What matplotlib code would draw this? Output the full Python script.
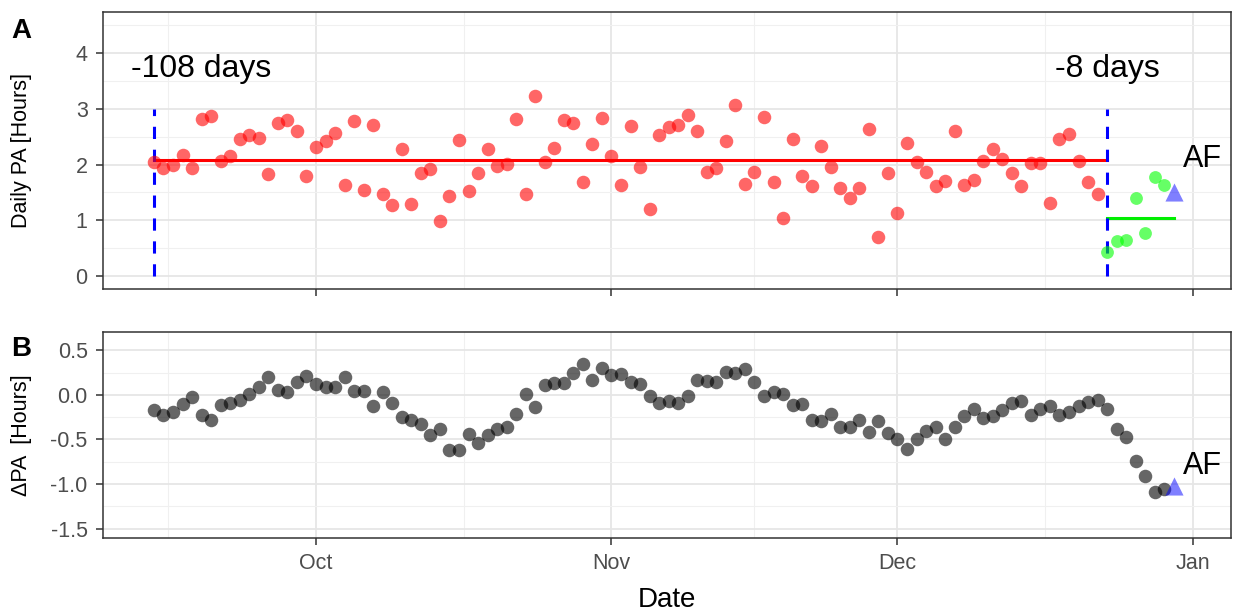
import datetime as dt
import matplotlib
matplotlib.use('Agg')
import matplotlib.pyplot as plt
import matplotlib.dates as mdates
import numpy as np

plt.rcParams['font.family'] = ['Liberation Sans', 'DejaVu Sans']

# Daily physical activity before the AF event (one value per day).
start_day = dt.date(2019, 9, 14)
red_pa = [2.04, 1.94, 1.99, 2.17, 1.93, 2.81, 2.86, 2.07, 2.15, 2.46, 2.53, 2.47,
          1.83, 2.75, 2.80, 2.59, 1.79,
          2.31, 2.42, 2.56, 1.63, 2.77, 1.54, 2.71, 1.48, 1.28, 2.27, 1.30, 1.85,
          1.92, 0.99, 1.44, 2.43, 1.53, 1.84, 2.28, 1.98, 2.01, 2.81, 1.47, 3.23,
          2.04, 2.30, 2.80, 2.75, 1.69, 2.36, 2.83,
          2.15, 1.64, 2.69, 1.96, 1.20, 2.53, 2.67, 2.71, 2.88, 2.59, 1.86, 1.94,
          2.42, 3.07, 1.66, 1.86, 2.85, 1.69, 1.05, 2.46, 1.79, 1.62, 2.33, 1.96,
          1.58, 1.40, 1.58, 2.64, 0.71, 1.84,
          1.13, 2.39, 2.04, 1.86, 1.62, 1.70, 2.59, 1.64, 1.73, 2.07, 2.28, 2.10,
          1.84, 1.61, 2.03, 2.03, 1.32, 2.46, 2.55, 2.07, 1.69, 1.48]
green_pa = [0.44, 0.63, 0.65, 1.41, 0.77, 1.78, 1.63]
af_pa = 1.51

# Change of PA (ΔPA) for every day up to the AF event.
delta_pa = [-0.17, -0.22, -0.19, -0.10, -0.02, -0.23, -0.28, -0.11, -0.09, -0.06,
            0.01, 0.09, 0.20, 0.06, 0.03, 0.14, 0.21,
            0.12, 0.09, 0.09, 0.20, 0.04, 0.04, -0.12, 0.03, -0.09, -0.25, -0.28,
            -0.33, -0.45, -0.38, -0.62, -0.62, -0.44, -0.54, -0.45, -0.38, -0.36,
            -0.21, 0.01, -0.14, 0.11, 0.13, 0.13, 0.24, 0.35, 0.17, 0.30,
            0.22, 0.23, 0.14, 0.12, -0.01, -0.09, -0.07, -0.09, -0.01, 0.17, 0.16,
            0.15, 0.26, 0.24, 0.29, 0.14, -0.01, 0.03, 0.01, -0.11, -0.10, -0.28,
            -0.29, -0.21, -0.36, -0.36, -0.28, -0.42, -0.29, -0.43,
            -0.49, -0.61, -0.49, -0.40, -0.36, -0.50, -0.36, -0.24, -0.16, -0.26,
            -0.24, -0.17, -0.09, -0.07, -0.22, -0.16, -0.12, -0.23, -0.19, -0.13,
            -0.08, -0.06, -0.16, -0.38, -0.47, -0.74, -0.91, -1.09, -1.06]
af_delta = -1.02

month_ticks = ['2019-10-01', '2019-11-01', '2019-12-01', '2020-01-01']
month_labels = ['Oct', 'Nov', 'Dec', 'Jan']

# Dates for each series.
red_days = [start_day + dt.timedelta(days=i) for i in range(len(red_pa))]
green_start = red_days[-1] + dt.timedelta(days=1)
green_days = [green_start + dt.timedelta(days=i) for i in range(len(green_pa))]
af_day = green_days[-1] + dt.timedelta(days=1)
delta_days = [start_day + dt.timedelta(days=i) for i in range(len(delta_pa))]

red_mean = np.mean(red_pa)
green_mean = np.mean(green_pa)

fig = plt.figure(figsize=(12.45, 6.13), dpi=100)
ax1 = fig.add_axes([0.0827, 0.5285, 0.9061, 0.4519])
ax2 = fig.add_axes([0.0827, 0.1223, 0.9061, 0.3361])

xmin = mdates.date2num(dt.date(2019, 9, 8)) + 0.65
xmax = mdates.date2num(dt.date(2020, 1, 5))
major = [mdates.date2num(dt.date.fromisoformat(d)) for d in month_ticks]
minor = [(a + b) / 2 for a, b in zip(major[:-1], major[1:])]
minor = [major[0] - (major[1] - major[0]) / 2] + minor

# ggplot theme_bw look for both panels.
for ax in (ax1, ax2):
    ax.set_facecolor('white')
    for s in ax.spines.values():
        s.set_color('#333333')
        s.set_linewidth(1.1)
    for m in major:
        ax.axvline(m, color='#e6e6e6', lw=1.3, zorder=0)
    for m in minor:
        ax.axvline(m, color='#f0f0f0', lw=0.8, zorder=0)
    ax.set_xlim(xmin, xmax)
    ax.set_xticks(major)
    ax.tick_params(axis='both', colors='#333333', labelcolor='#4d4d4d',
                   labelsize=15.5, length=5, width=1.1, pad=6)

# Panel A.
for y in np.arange(0, 5, 1):
    ax1.axhline(y, color='#e6e6e6', lw=1.3, zorder=0)
for y in np.arange(0.5, 5, 1):
    ax1.axhline(y, color='#f0f0f0', lw=0.8, zorder=0)
ax1.scatter(red_days, red_pa, s=95, color='#ff0000', alpha=0.6, lw=0, zorder=3)
ax1.scatter(green_days, green_pa, s=85, color='#00ff00', alpha=0.6, lw=0, zorder=3)
ax1.scatter([af_day], [af_pa], s=170, marker='^', color='#0000ff', alpha=0.5,
            lw=0, zorder=4)
ax1.plot([red_days[0], green_start], [red_mean, red_mean], color='red', lw=2.2,
         zorder=2)
ax1.plot([green_start, af_day], [green_mean, green_mean], color='#00ee00', lw=2.2,
         zorder=2)
for d in (start_day, green_start):
    ax1.plot([d, d], [0, 3], color='#0000ff', lw=2.2, ls=(0, (4, 3.5)), zorder=2)
ax1.text(start_day + dt.timedelta(days=5), 3.7, '-108 days', fontsize=23,
         ha='center', va='center')
ax1.text(green_start, 3.7, '-8 days', fontsize=23, ha='center', va='center')
ax1.text(af_day + dt.timedelta(days=1), 2.1, 'AF', fontsize=22, ha='left',
         va='center')
ax1.set_ylim(-0.225, 4.725)
ax1.set_yticks([0, 1, 2, 3, 4])
ax1.set_xticklabels([])
ax1.set_ylabel('Daily PA [Hours]', fontsize=15.5)
ax1.yaxis.set_label_coords(-0.063, 0.5)

# Panel B.
for y in np.arange(-1.5, 0.6, 0.5):
    ax2.axhline(y, color='#e6e6e6', lw=1.3, zorder=0)
for y in np.arange(-1.25, 0.6, 0.5):
    ax2.axhline(y, color='#f0f0f0', lw=0.8, zorder=0)
ax2.scatter(delta_days, delta_pa, s=95, color='black', alpha=0.6, lw=0, zorder=3)
ax2.scatter([af_day], [af_delta], s=170, marker='^', color='#0000ff', alpha=0.5,
            lw=0, zorder=4)
ax2.text(af_day + dt.timedelta(days=1), -0.8, 'AF', fontsize=22, ha='left',
         va='center')
ax2.set_ylim(-1.605, 0.705)
ax2.set_yticks([-1.5, -1.0, -0.5, 0.0, 0.5])
ax2.set_yticklabels(['-1.5', '-1.0', '-0.5', '0.0', '0.5'])
ax2.set_xticklabels(month_labels)
ax2.set_ylabel('ΔPA  [Hours]', fontsize=15.5)
ax2.yaxis.set_label_coords(-0.063, 0.5)
ax2.set_xlabel('Date', fontsize=20, labelpad=9)

fig.text(0.009, 0.938, 'A', fontsize=20, fontweight='bold')
fig.text(0.009, 0.42, 'B', fontsize=20, fontweight='bold')

fig.savefig('out.png', dpi=100)
